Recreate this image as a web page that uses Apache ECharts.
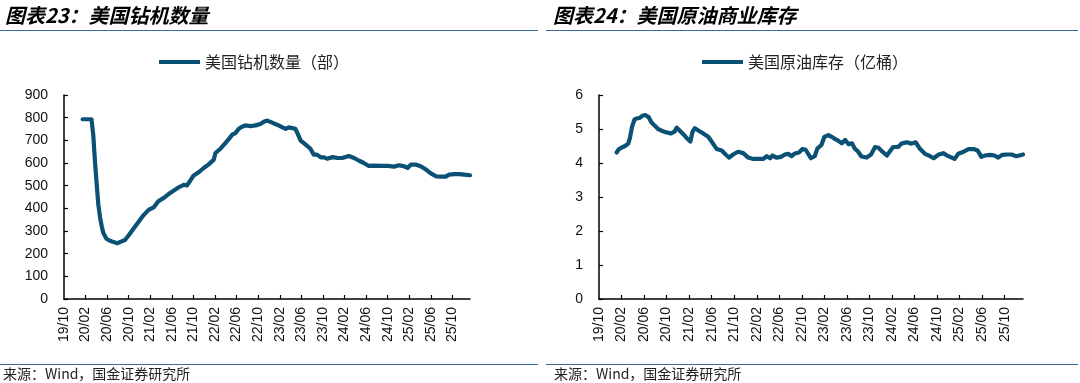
<!DOCTYPE html>
<html>
<head>
<meta charset="utf-8">
<script src="https://cdn.jsdelivr.net/npm/echarts@6/dist/echarts.min.js"></script>
<style>
html,body{margin:0;padding:0;background:#fff;}
#c{width:1080px;height:383px;}
</style>
</head>
<body>
<div id="c"></div>
<script>
// ---------- data ----------
const rigDates = ['2020-01-15','2020-03-04','2020-03-14','2020-03-24','2020-04-03','2020-04-12','2020-04-22','2020-05-01','2020-05-10','2020-05-28','2020-06-17','2020-07-07','2020-07-28','2020-08-22','2020-09-10','2020-10-01','2020-10-28','2020-11-25','2020-12-22','2021-01-22','2021-02-18','2021-03-16','2021-04-16','2021-05-13','2021-06-10','2021-07-10','2021-08-07','2021-08-25','2021-09-13','2021-10-01','2021-11-01','2021-11-28','2021-12-25','2022-01-25','2022-02-03','2022-03-01','2022-03-28','2022-04-15','2022-05-07','2022-05-25','2022-06-13','2022-07-01','2022-07-19','2022-08-19','2022-09-16','2022-10-13','2022-11-07','2022-11-22','2022-12-19','2023-01-16','2023-02-15','2023-03-04','2023-03-22','2023-04-10','2023-04-28','2023-05-13','2023-05-28','2023-06-25','2023-07-22','2023-08-10','2023-08-28','2023-09-19','2023-10-07','2023-10-25','2023-11-25','2023-12-22','2024-01-19','2024-02-24','2024-03-25','2024-04-22','2024-05-19','2024-06-16','2024-07-16','2024-08-22','2024-10-01','2024-11-07','2024-12-04','2025-01-04','2025-01-22','2025-02-09','2025-03-07','2025-04-07','2025-05-04','2025-06-01','2025-07-01','2025-07-28','2025-08-25','2025-09-13','2025-10-13','2025-11-10','2025-12-07','2026-01-09'];
const rigCount = [793,793,725,607,504,416,357,320,291,266,257,251,246,254,260,281,310,340,368,393,404,431,446,463,478,493,504,501,522,544,560,578,593,615,644,663,687,703,725,732,751,760,766,763,766,772,784,787,778,769,757,751,757,754,751,725,699,681,663,637,637,625,625,619,626,622,622,631,622,610,600,587,588,587,587,584,590,585,578,593,593,585,571,554,541,540,540,549,551,551,549,546];

const crudeDates = ['2020-01-05','2020-01-18','2020-02-01','2020-02-19','2020-03-07','2020-03-16','2020-03-28','2020-04-10','2020-04-22','2020-05-10','2020-05-22','2020-06-07','2020-06-25','2020-07-10','2020-07-28','2020-08-16','2020-09-04','2020-10-01','2020-10-25','2020-11-13','2020-11-25','2020-12-13','2021-01-01','2021-01-19','2021-02-07','2021-02-18','2021-03-01','2021-03-25','2021-04-16','2021-05-13','2021-06-01','2021-06-28','2021-07-25','2021-08-16','2021-09-04','2021-09-25','2021-10-22','2021-11-19','2021-12-16','2022-01-13','2022-02-09','2022-03-07','2022-03-25','2022-04-12','2022-04-25','2022-05-16','2022-06-10','2022-07-01','2022-07-19','2022-08-07','2022-08-25','2022-09-16','2022-10-04','2022-10-22','2022-11-07','2022-11-19','2022-12-10','2022-12-25','2023-01-16','2023-02-01','2023-02-21','2023-03-10','2023-03-28','2023-04-16','2023-05-04','2023-05-22','2023-06-10','2023-06-28','2023-07-13','2023-08-01','2023-08-19','2023-09-16','2023-10-10','2023-11-01','2023-11-19','2023-12-07','2024-01-04','2024-01-22','2024-02-07','2024-03-04','2024-03-22','2024-04-19','2024-05-16','2024-06-07','2024-07-01','2024-07-28','2024-08-25','2024-09-13','2024-10-07','2024-11-04','2024-12-01','2025-01-04','2025-01-25','2025-02-21','2025-03-19','2025-04-16','2025-05-07','2025-05-28','2025-06-16','2025-07-13','2025-08-07','2025-08-28','2025-09-19','2025-10-13','2025-11-07','2025-12-04','2026-01-09'];
const crudeStock = [4.31,4.41,4.45,4.50,4.57,4.73,5.07,5.28,5.31,5.33,5.39,5.41,5.35,5.20,5.10,5.00,4.95,4.90,4.87,4.92,5.04,4.94,4.84,4.73,4.63,4.92,5.02,4.94,4.87,4.77,4.63,4.41,4.37,4.25,4.16,4.25,4.33,4.29,4.16,4.12,4.12,4.12,4.20,4.14,4.22,4.16,4.18,4.25,4.27,4.20,4.28,4.31,4.41,4.39,4.25,4.14,4.20,4.43,4.53,4.77,4.82,4.77,4.71,4.65,4.58,4.68,4.55,4.58,4.43,4.33,4.19,4.16,4.25,4.47,4.45,4.35,4.22,4.35,4.47,4.47,4.57,4.61,4.57,4.61,4.41,4.27,4.20,4.14,4.24,4.29,4.20,4.12,4.27,4.33,4.41,4.41,4.37,4.18,4.22,4.24,4.22,4.16,4.24,4.25,4.25,4.20,4.25];

// x tick labels every 4 months starting 19/10
const tickLabels = ['19/10','20/02','20/06','20/10','21/02','21/06','21/10','22/02','22/06','22/10','23/02','23/06','23/10','24/02','24/06','24/10','25/02','25/06','25/10'];

const rigYTicks = [0,100,200,300,400,500,600,700,800,900];
const crudeYTicks = [0,1,2,3,4,5,6];

const titles = ['图表23：美国钻机数量','图表24：美国原油商业库存'];
const legendNames = ['美国钻机数量（部）','美国原油库存（亿桶）'];
const sourceText = '来源：Wind，国金证券研究所';

// ---------- helpers ----------
// fractional months since 2019-10-01
function monthIndex(s){
  const p = s.split('-').map(Number);
  const dim = new Date(p[0], p[1], 0).getDate();
  return (p[0]-2019)*12 + (p[1]-10) + (p[2]-1)/dim;
}
const tickPos = tickLabels.map((_,i)=>i*4);
function fmtTick(v){
  const i = Math.round(v/4);
  return (Math.abs(v - i*4) < 1e-6 && tickLabels[i]) ? tickLabels[i] : '';
}
const rigData = rigDates.map((d,i)=>[monthIndex(d), rigCount[i]]);
const crudeData = crudeDates.map((d,i)=>[monthIndex(d), crudeStock[i]]);
const xMaxL = monthIndex(rigDates[rigDates.length-1]);
const xMaxR = monthIndex(crudeDates[crudeDates.length-1]);

const LINE = '#0b5075';
const AX = '#000';
const numFont = 'Liberation Sans, Arial, sans-serif';
const cjkFont = '"Noto Sans CJK SC", sans-serif';

function xAxisCfg(grid, max){
  return {
    type:'value', gridIndex:grid, min:0, max:max,
    axisLine:{show:true, onZero:false, lineStyle:{color:AX, width:1.5}},
    axisTick:{show:true, inside:true, length:4, customValues:tickPos.slice(1), lineStyle:{color:AX, width:1.2}},
    axisLabel:{show:true, rotate:90, margin:8, customValues:tickPos, formatter:fmtTick,
      fontSize:14, color:'#111', fontFamily:numFont},
    splitLine:{show:false}
  };
}
function yAxisCfg(grid, ticks){
  return {
    type:'value', gridIndex:grid, min:ticks[0], max:ticks[ticks.length-1], interval:ticks[1]-ticks[0],
    axisLine:{show:true, lineStyle:{color:AX, width:1.5}},
    axisTick:{show:true, inside:true, length:4, lineStyle:{color:AX, width:1.2}},
    axisLabel:{margin:16, fontSize:14, color:'#111', fontFamily:numFont},
    splitLine:{show:false}
  };
}

const chart = echarts.init(document.getElementById('c'), null, {renderer:'canvas'});
chart.setOption({
  animation:false,
  backgroundColor:'#fff',
  grid:[
    {left:64, top:95, width:406, height:204},
    {left:599, top:95, width:424, height:204}
  ],
  xAxis:[xAxisCfg(0, xMaxL), xAxisCfg(1, xMaxR)],
  yAxis:[yAxisCfg(0, rigYTicks), yAxisCfg(1, crudeYTicks)],
  legend:[
    {data:[legendNames[0]], left:154, top:49, icon:'rect', itemWidth:41, itemHeight:4,
     textStyle:{fontSize:16, color:'#222', fontFamily:cjkFont}},
    {data:[legendNames[1]], left:697, top:49, icon:'rect', itemWidth:41, itemHeight:4,
     textStyle:{fontSize:16, color:'#222', fontFamily:cjkFont}}
  ],
  series:[
    {name:legendNames[0], type:'line', xAxisIndex:0, yAxisIndex:0, data:rigData,
     showSymbol:false, symbol:'none', color:LINE, lineStyle:{width:4.2, color:LINE, join:'round', cap:'round'}},
    {name:legendNames[1], type:'line', xAxisIndex:1, yAxisIndex:1, data:crudeData,
     showSymbol:false, symbol:'none', color:LINE, lineStyle:{width:4.2, color:LINE, join:'round', cap:'round'}}
  ],
  graphic:[
    {type:'text', left:5, top:5, style:{text:titles[0], fontSize:20, fontWeight:'bold', fontStyle:'italic', fontFamily:cjkFont, fill:'#000'}},
    {type:'text', left:553, top:5, style:{text:titles[1], fontSize:20, fontWeight:'bold', fontStyle:'italic', fontFamily:cjkFont, fill:'#000'}},
    {type:'line', shape:{x1:0, y1:30.5, x2:538, y2:30.5}, style:{stroke:'#3a6d9c', lineWidth:1}},
    {type:'line', shape:{x1:546, y1:30.5, x2:1078, y2:30.5}, style:{stroke:'#3a6d9c', lineWidth:1}},
    {type:'line', shape:{x1:0, y1:364.5, x2:538, y2:364.5}, style:{stroke:'#3a6d9c', lineWidth:1}},
    {type:'line', shape:{x1:546, y1:364.5, x2:1078, y2:364.5}, style:{stroke:'#3a6d9c', lineWidth:1}},
    {type:'text', left:3, top:367, style:{text:sourceText, fontSize:14, fontFamily:cjkFont, fill:'#222'}},
    {type:'text', left:554, top:367, style:{text:sourceText, fontSize:14, fontFamily:cjkFont, fill:'#222'}}
  ]
});
</script>
</body>
</html>
